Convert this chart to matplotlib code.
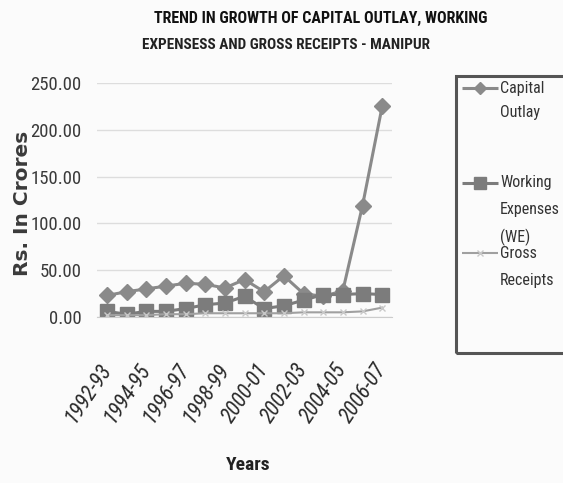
import matplotlib
matplotlib.use("Agg")
import matplotlib.pyplot as plt
from matplotlib import font_manager
from matplotlib.lines import Line2D
from matplotlib.patches import Rectangle

years = ["1992-93", "1993-94", "1994-95", "1995-96", "1996-97", "1997-98",
         "1998-99", "1999-00", "2000-01", "2001-02", "2002-03", "2003-04",
         "2004-05", "2005-06", "2006-07"]
capital_outlay = [23, 27, 30, 33, 36, 35, 31, 40, 27, 44, 25, 22, 28, 119, 225]
working_expenses = [6, 3, 6, 6, 9, 13, 15, 22, 9, 12, 18, 24, 24, 25, 24]
gross_receipts = [2, 2, 2, 3, 3, 4, 4, 4, 4, 4, 5, 5, 5, 6, 10]
y_ticks = [0, 50, 100, 150, 200, 250]

series_labels = [["Capital", "Outlay"],
                 ["Working", "Expenses", "(WE)"],
                 ["Gross", "Receipts"]]

# Prefer a narrow face
names = {f.name for f in font_manager.fontManager.ttflist}
narrow = "DejaVu Sans"
for cand in ["Roboto Condensed", "Open Sans Condensed", "Liberation Sans Narrow"]:
    if cand in names:
        narrow = cand
        break
plt.rcParams["font.family"] = [narrow, "DejaVu Sans"]

W, H = 563, 483
fig = plt.figure(figsize=(W / 100, H / 100), dpi=100)
bg = "#fbfbfb"
fig.patch.set_facecolor(bg)


def fx(px):
    return px / W


def fy(py):
    return 1 - py / H


ax = fig.add_axes([fx(97), fy(317), (392 - 97) / W, (317 - 83) / H])
ax.set_facecolor(bg)

styles = [dict(color="#8a8a8a", lw=2.2, marker="D", ms=8),
          dict(color="#7c7c7c", lw=2.2, marker="s", ms=10),
          dict(color="#a0a0a0", lw=1.5, marker="x", ms=5, mec="#c8c8c8")]

x = list(range(len(years)))
for vals, st in zip([capital_outlay, working_expenses, gross_receipts], styles):
    ax.plot(x, vals, **st)

ax.set_ylim(0, 250)
ax.set_xlim(-0.5, 14.5)
ax.set_yticks(y_ticks)
ax.set_yticklabels([f"{v:.2f}" for v in y_ticks], fontsize=13.5, color="#3a3a3a")
ax.set_xticks(x[::2])
ax.set_xticklabels(years[::2], rotation=56, ha="right", rotation_mode="anchor",
                   fontsize=15.5, style="italic", color="#2a2a2a")
ax.tick_params(axis="y", length=0, pad=11)
ax.tick_params(axis="x", length=0, pad=35)
for lbl in ax.get_xticklabels():
    lbl.set_va("center")
ax.grid(axis="y", color="#dddddd", lw=1)
ax.set_axisbelow(True)
for s in ["top", "right", "left"]:
    ax.spines[s].set_visible(False)
ax.spines["bottom"].set_color("#cccccc")

fig.text(fx(22), fy(203), "Rs. In Crores", rotation=90, ha="center", va="center",
         fontsize=14.5, fontweight="bold", color="#3a3a3a", family="DejaVu Sans")
ax.set_xlabel("Years", fontsize=14, fontweight="bold", color="#222222")
ax.xaxis.set_label_coords((248 - 97) / 295, -(456 - 317) / 234)

fig.text(fx(321), fy(18), "TREND IN GROWTH OF CAPITAL OUTLAY, WORKING",
         ha="center", va="center", fontsize=11.5, fontweight="bold", color="#111111")
fig.text(fx(142), fy(45), "EXPENSESS AND GROSS RECEIPTS - MANIPUR",
         ha="left", va="center", fontsize=11, fontweight="bold", color="#222222")

# Legend box, partly running past the right edge
fig.patches.append(Rectangle((fx(456), fy(353)), fx(130), (353 - 76) / H,
                             transform=fig.transFigure, fill=False,
                             edgecolor="#555555", lw=2.2))
entry_rows = [[88, 113], [183, 210, 237], [253, 280]]
for st, lines, rows in zip(styles, series_labels, entry_rows):
    fig.add_artist(Line2D([fx(462), fx(498)], [fy(rows[0])] * 2,
                          transform=fig.transFigure, color=st["color"],
                          lw=st["lw"], solid_capstyle="butt"))
    mk = dict(st)
    mk.pop("lw")
    mk["ms"] = mk["ms"] * 0.8
    fig.add_artist(Line2D([fx(480)], [fy(rows[0])], transform=fig.transFigure,
                          linestyle="none", **mk))
    for txt, row in zip(lines, rows):
        fig.text(fx(500), fy(row), txt, ha="left", va="center",
                 fontsize=11.5, color="#333333")

fig.savefig("out.png", dpi=100, facecolor=fig.get_facecolor())
